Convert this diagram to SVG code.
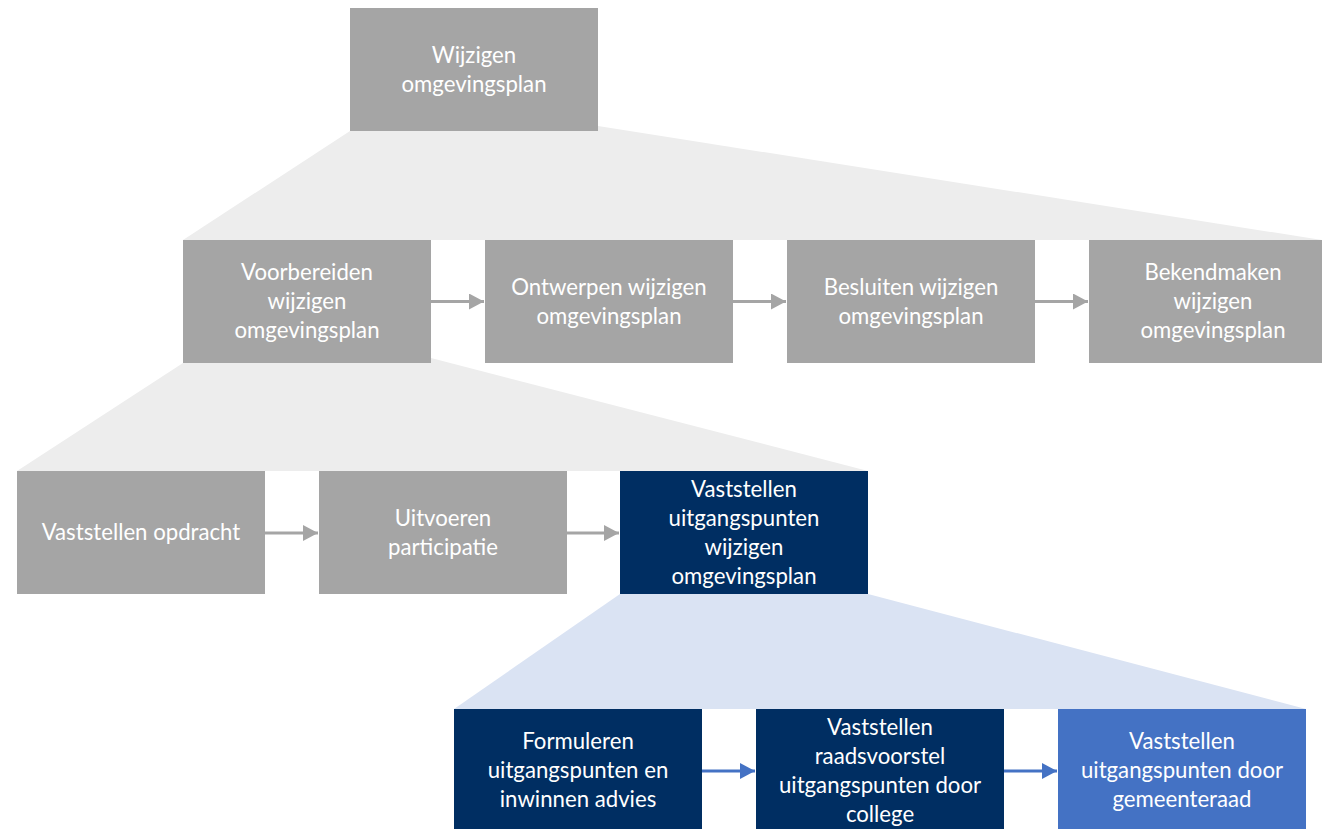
<svg xmlns="http://www.w3.org/2000/svg" width="1322" height="829" viewBox="0 0 1322 829">
<defs>
<style>
.g{fill:#a5a5a5}
.n{fill:#002e62}
.b{fill:#4472c4}
.t{font-family:Lato,"Liberation Sans",sans-serif;font-size:22.2px;fill:#ffffff;text-anchor:middle}
.ag{stroke:#a5a5a5;stroke-width:3;fill:none}
.ab{stroke:#4472c4;stroke-width:3;fill:none}
</style>
<marker id="mg" markerUnits="userSpaceOnUse" markerWidth="16" markerHeight="16" refX="15" refY="8" orient="auto"><path d="M0,0 L15,8 L0,16 Z" fill="#a5a5a5"/></marker>
<marker id="mb" markerUnits="userSpaceOnUse" markerWidth="16" markerHeight="16" refX="15" refY="8" orient="auto"><path d="M0,0 L15,8 L0,16 Z" fill="#4472c4"/></marker>
</defs>
<rect width="1322" height="829" fill="#ffffff"/>
<g id="zoom-areas">
<polygon points="350,131 598,126 1322,240 183,240" fill="#ededed"/>
<polygon points="183,363 431,358 868,471 17,471" fill="#ededed"/>
<polygon points="620,594 868,594 1306,709 454,709" fill="#dae3f3"/>
</g>
<g id="connectors">
<path class="ag" d="M431,301.5 H484" marker-end="url(#mg)"/>
<path class="ag" d="M733,301.5 H786" marker-end="url(#mg)"/>
<path class="ag" d="M1035,301.5 H1088" marker-end="url(#mg)"/>
<path class="ag" d="M265,533 H318" marker-end="url(#mg)"/>
<path class="ag" d="M567,533 H619" marker-end="url(#mg)"/>
<path class="ab" d="M702,771 H755" marker-end="url(#mb)"/>
<path class="ab" d="M1004,771 H1057" marker-end="url(#mb)"/>
</g>
<g id="n-top"><rect class="g" x="350" y="8" width="248" height="123"/>
<text class="t" x="474" y="63">Wijzigen</text><text class="t" x="474" y="92">omgevingsplan</text></g>
<g id="n-voorbereiden"><rect class="g" x="183" y="240" width="248" height="123"/>
<text class="t" x="307" y="280">Voorbereiden</text><text class="t" x="307" y="309">wijzigen</text><text class="t" x="307" y="338">omgevingsplan</text></g>
<g id="n-ontwerpen"><rect class="g" x="485" y="240" width="248" height="123"/>
<text class="t" x="609" y="295">Ontwerpen wijzigen</text><text class="t" x="609" y="324">omgevingsplan</text></g>
<g id="n-besluiten"><rect class="g" x="787" y="240" width="248" height="123"/>
<text class="t" x="911" y="295">Besluiten wijzigen</text><text class="t" x="911" y="324">omgevingsplan</text></g>
<g id="n-bekendmaken"><rect class="g" x="1089" y="240" width="248" height="123"/>
<text class="t" x="1213" y="280">Bekendmaken</text><text class="t" x="1213" y="309">wijzigen</text><text class="t" x="1213" y="338">omgevingsplan</text></g>
<g id="n-opdracht"><rect class="g" x="17" y="471" width="248" height="123"/>
<text class="t" x="141" y="540">Vaststellen opdracht</text></g>
<g id="n-participatie"><rect class="g" x="319" y="471" width="248" height="123"/>
<text class="t" x="443" y="526">Uitvoeren</text><text class="t" x="443" y="555">participatie</text></g>
<g id="n-uitgangspunten"><rect class="n" x="620" y="471" width="248" height="123"/>
<text class="t" x="744" y="497">Vaststellen</text><text class="t" x="744" y="526">uitgangspunten</text><text class="t" x="744" y="555">wijzigen</text><text class="t" x="744" y="584">omgevingsplan</text></g>
<g id="n-formuleren"><rect class="n" x="454" y="709" width="248" height="123"/>
<text class="t" x="578" y="749">Formuleren</text><text class="t" x="578" y="778">uitgangspunten en</text><text class="t" x="578" y="807">inwinnen advies</text></g>
<g id="n-raadsvoorstel"><rect class="n" x="756" y="709" width="248" height="123"/>
<text class="t" x="880" y="735">Vaststellen</text><text class="t" x="880" y="764">raadsvoorstel</text><text class="t" x="880" y="793">uitgangspunten door</text><text class="t" x="880" y="822">college</text></g>
<g id="n-gemeenteraad"><rect class="b" x="1058" y="709" width="248" height="123"/>
<text class="t" x="1182" y="749">Vaststellen</text><text class="t" x="1182" y="778">uitgangspunten door</text><text class="t" x="1182" y="807">gemeenteraad</text></g>
</svg>
